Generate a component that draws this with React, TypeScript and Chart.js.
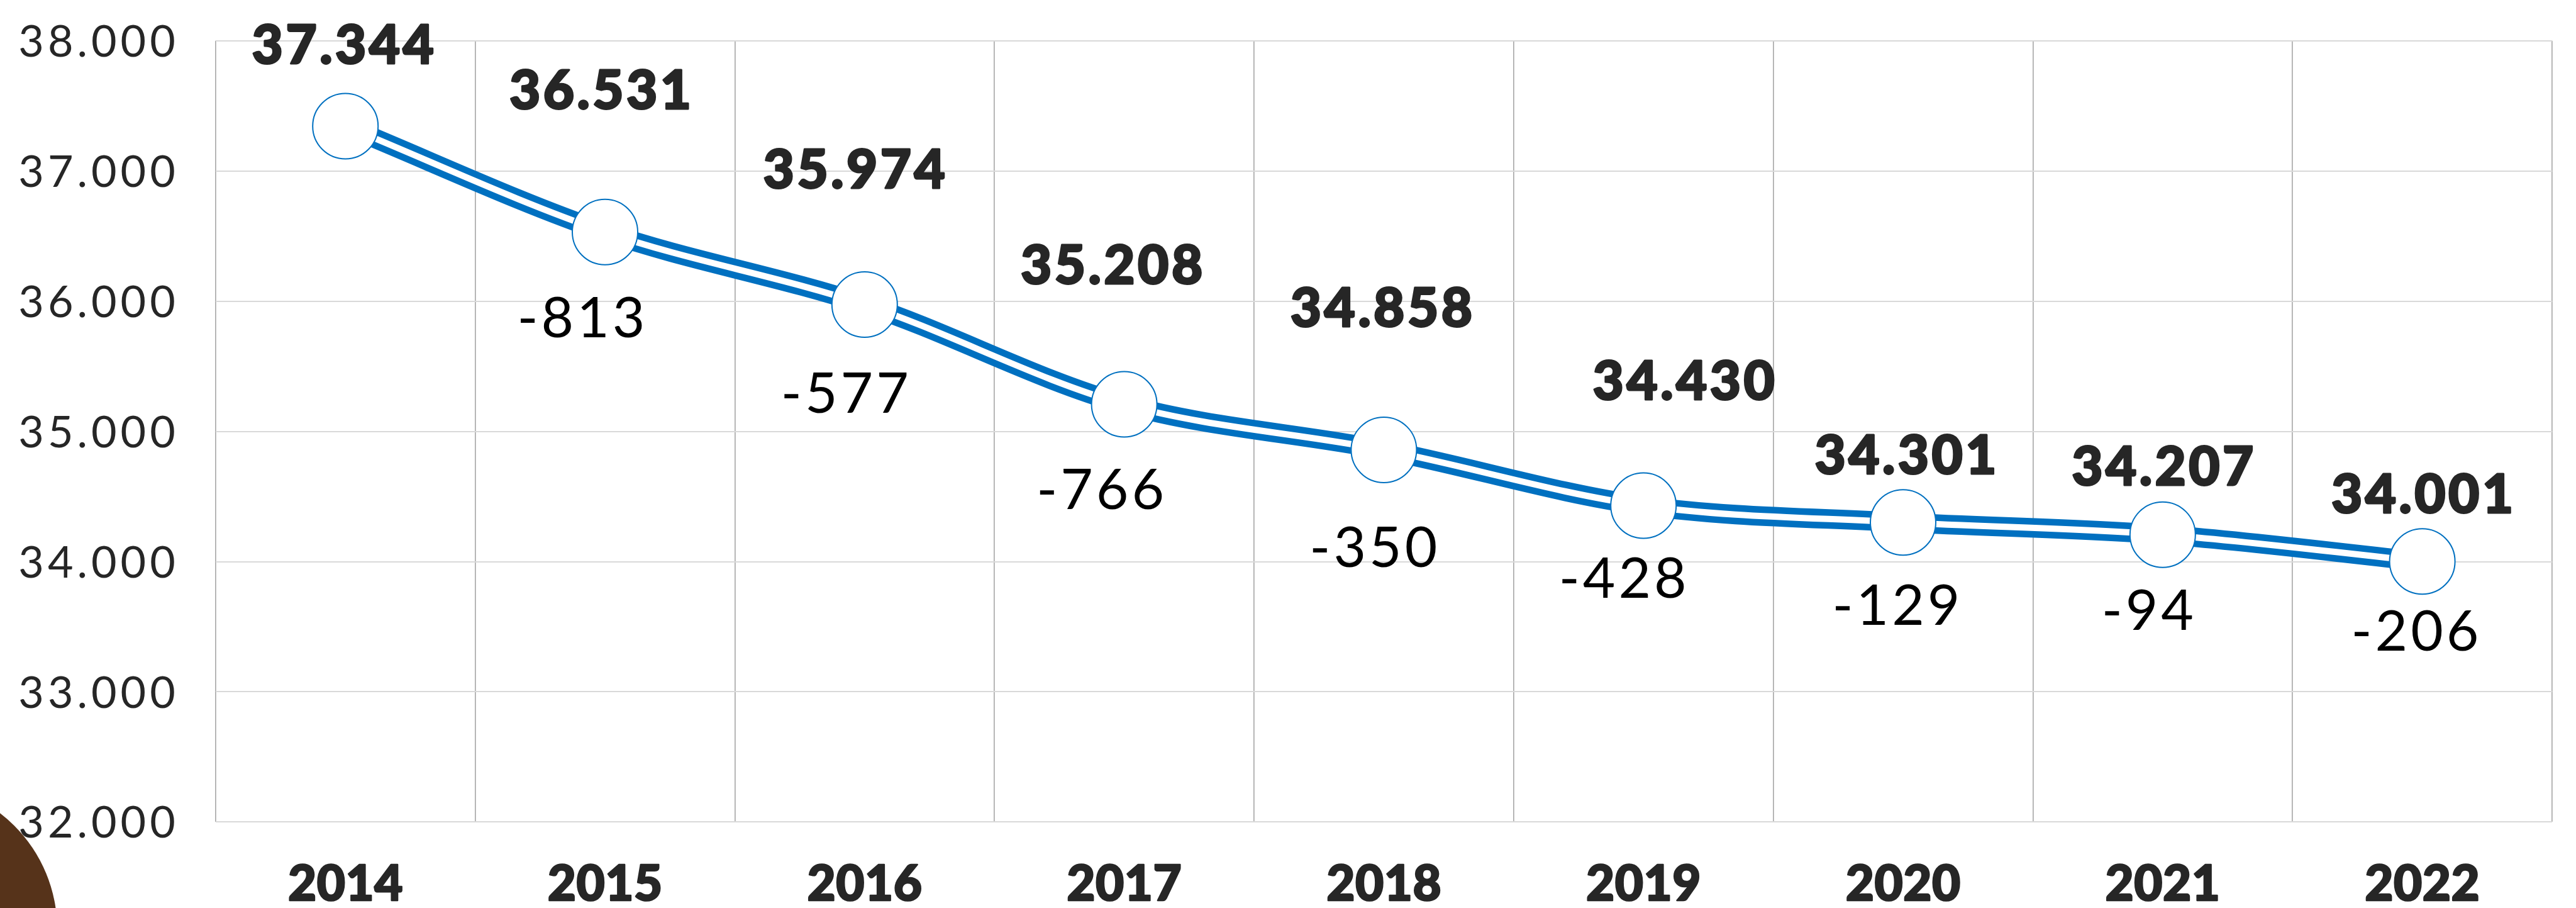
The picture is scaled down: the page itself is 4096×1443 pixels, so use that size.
import React, { useEffect, useRef } from "react";
import { Chart, registerables } from "chart.js";

Chart.register(...registerables);

// ---------- data ----------
const years = ["2014", "2015", "2016", "2017", "2018", "2019", "2020", "2021", "2022"];
const population = [37344, 36531, 35974, 35208, 34858, 34430, 34301, 34207, 34001];
const changes: (number | null)[] = [null, -813, -577, -766, -350, -428, -129, -94, -206];
const yMin = 32000;
const yMax = 38000;
const yStep = 1000;

// ---------- label placement (manually dragged labels in the original, px offsets from the point) ----------
const valueLabelOffsets: [number, number][] = [
  [-4, -129.5], [-7.5, -226.6], [-16.6, -215], [-20, -221.6], [-4, -226.6],
  [64, -199], [4, -108], [0, -108.7], [0, -108],
];
const changeLabelOffsets: [number, number][] = [
  [0, 0], [-38, 135], [-31.5, 140], [-38, 135], [-16.6, 154],
  [-33, 115], [-11, 131], [-24, 119], [-11.6, 110],
];

// ---------- styles ----------
const BLUE = "#0070C0";
const TEXT_DARK = "#262626";
const FONT = "Lato";
const CAP = 0.7165;
const CANVAS_W = 4112;
const CANVAS_H = 1443;
const AREA_LEFT = 342.8;
const AREA_TOP = 64.7;
const AREA_BOTTOM = 1306.4;
const AREA_RIGHT = 4108.5;

const fmt = (v: number) => String(v).replace(/\B(?=(\d{3})+(?!\d))/g, ".");

function drawText(
  ctx: CanvasRenderingContext2D,
  text: string,
  x: number,
  capCenterY: number,
  size: number,
  weight: number,
  color: string,
  spacing: number,
  align: CanvasTextAlign,
  stroke = 0
) {
  ctx.save();
  ctx.font = `${weight} ${size}px ${FONT}`;
  (ctx as any).letterSpacing = `${spacing}px`;
  ctx.fillStyle = color;
  ctx.strokeStyle = color;
  ctx.lineJoin = "round";
  ctx.textBaseline = "alphabetic";
  ctx.textAlign = align;
  const adj = align === "center" ? spacing / 2 : align === "right" ? spacing : 0;
  const bx = x + adj;
  const by = capCenterY + (CAP * size) / 2;
  if (stroke > 0) {
    ctx.lineWidth = stroke;
    ctx.strokeText(text, bx, by);
  }
  ctx.fillText(text, bx, by);
  ctx.restore();
}

const decorPlugin = {
  id: "decor",
  beforeDraw(chart: any) {
    const ctx = chart.ctx as CanvasRenderingContext2D;
    ctx.save();
    ctx.fillStyle = "#ffffff";
    ctx.fillRect(0, 0, chart.width, chart.height);
    ctx.fillStyle = "#56331A";
    ctx.beginPath();
    ctx.arc(-142, 1477, 233, 0, Math.PI * 2);
    ctx.fill();
    ctx.restore();
  },
  afterDraw(chart: any) {
    const ctx = chart.ctx as CanvasRenderingContext2D;
    const xs = chart.scales.x;
    const ys = chart.scales.y;
    const area = chart.chartArea;
    // y tick labels
    ys.ticks.forEach((t: any) => {
      const y = ys.getPixelForValue(t.value);
      drawText(ctx, t.label, area.left - 64, y, 70, 400, TEXT_DARK, 6, "right");
    });
    // x tick labels
    (chart.data.labels as string[]).forEach((lab, i) => {
      const x = xs.getPixelForTick(i);
      drawText(ctx, lab, x, 1403, 78, 900, TEXT_DARK, 0.5, "center", 2.5);
    });
    // data labels
    const meta = chart.getDatasetMeta(0);
    meta.data.forEach((pt: any, i: number) => {
      const [vdx, vdy] = valueLabelOffsets[i];
      drawText(ctx, fmt(population[i]), pt.x + vdx, pt.y + vdy, 85, 900, TEXT_DARK, 4.5, "center", 3);
      const c = changes[i];
      if (c !== null) {
        const [cdx, cdy] = changeLabelOffsets[i];
        drawText(ctx, String(c), pt.x + cdx, pt.y + cdy, 89, 400, "#000000", 5, "center");
      }
    });
  },
};

export default function App() {
  const ref = useRef<HTMLCanvasElement | null>(null);

  useEffect(() => {
    document.body.style.margin = "0";
    document.body.style.overflow = "hidden";
    const canvas = ref.current!;
    const chart = new Chart(canvas, {
      type: "line",
      data: {
        labels: years,
        datasets: [
          {
            data: population,
            borderColor: "#ffffff",
            borderWidth: 10,
            tension: 0.33,
            pointRadius: 52,
            pointBackgroundColor: "#ffffff",
            pointBorderColor: BLUE,
            pointBorderWidth: 2,
            fill: false,
            clip: false as any,
          },
          {
            data: population,
            borderColor: BLUE,
            borderWidth: 31,
            tension: 0.33,
            pointRadius: 0,
            fill: false,
            clip: false as any,
          },
        ],
      },
      options: {
        responsive: false,
        animation: false,
        events: [],
        layout: { padding: { top: AREA_TOP, right: CANVAS_W - AREA_RIGHT, left: 0, bottom: 0 } },
        plugins: { legend: { display: false }, tooltip: { enabled: false } },
        scales: {
          x: {
            type: "category",
            offset: true,
            grid: { display: true, offset: true, drawTicks: false, color: "#aaaaaa", lineWidth: 1.7 },
            border: { display: false },
            ticks: { display: false },
            afterFit: (s: any) => {
              s.height = CANVAS_H - AREA_BOTTOM;
            },
          },
          y: {
            min: yMin,
            max: yMax,
            ticks: { display: false, stepSize: yStep, callback: (v: any) => fmt(Number(v)) },
            grid: { drawTicks: false, color: "#d9d9d9", lineWidth: 2 },
            border: { display: false },
            afterFit: (s: any) => {
              s.width = AREA_LEFT;
            },
          },
        },
      },
      plugins: [decorPlugin],
    });
    const fonts = (document as any).fonts;
    if (fonts && fonts.load) {
      Promise.all([
        fonts.load(`400 70px ${FONT}`),
        fonts.load(`900 80px ${FONT}`),
      ])
        .then(() => chart.draw())
        .catch(() => {});
    }
    return () => chart.destroy();
  }, []);

  return (
    <div
      style={{
        position: "absolute",
        left: 0,
        top: 0,
        width: 4096,
        height: 1443,
        overflow: "hidden",
        background: "#ffffff",
      }}
    >
      <canvas ref={ref} width={CANVAS_W} height={CANVAS_H} style={{ width: CANVAS_W, height: CANVAS_H, display: "block" }} />
    </div>
  );
}
